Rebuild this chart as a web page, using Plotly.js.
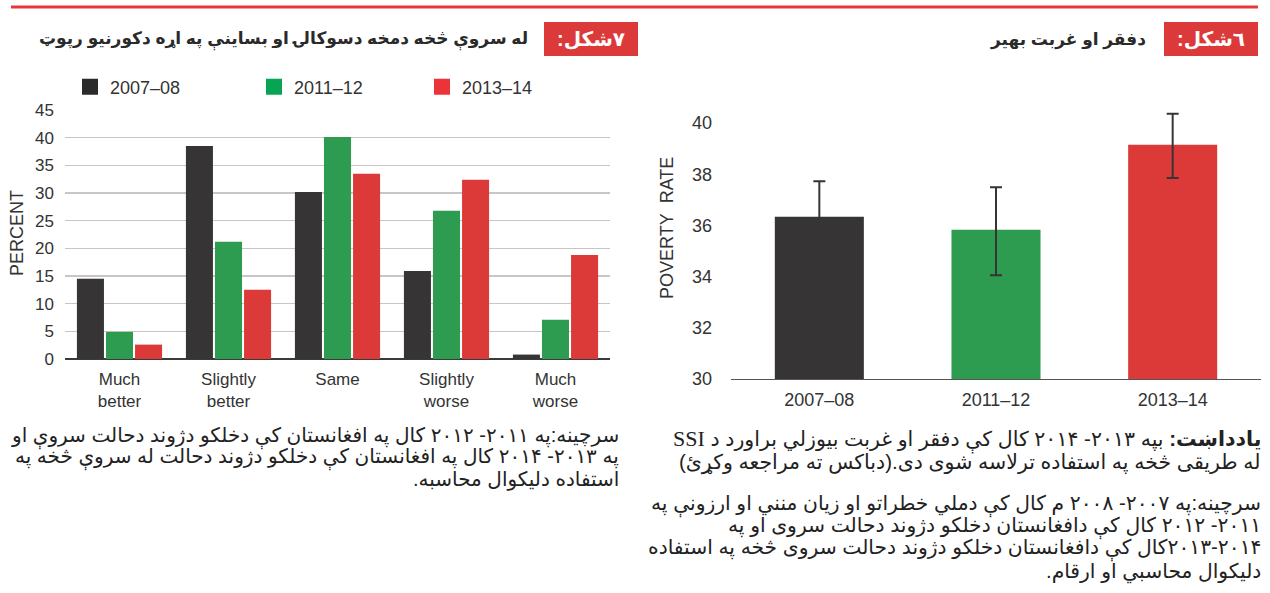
<!DOCTYPE html>
<html><head><meta charset="utf-8">
<script src="https://cdn.plot.ly/plotly-3.0.1.min.js"></script>
<style>html,body{margin:0;padding:0;background:#fff}#chart{width:1270px;height:593px}</style>
</head><body><div id="chart"></div>
<script>
// ---- data ----
const conditionCategories = ['Much<br>better', 'Slightly<br>better', 'Same', 'Slightly<br>worse', 'Much<br>worse'];
const wellbeing2007 = [14.5, 38.5, 30.2, 15.9, 0.8];
const wellbeing2011 = [4.9, 21.2, 40.1, 26.8, 7.1];
const wellbeing2013 = [2.6, 12.5, 33.5, 32.4, 18.8];
const seriesNames = ['2007–08', '2011–12', '2013–14'];
const percentTicks = [0, 5, 10, 15, 20, 25, 30, 35, 40, 45];

const surveyYears = ['2007–08', '2011–12', '2013–14'];
const povertyRate = [36.34, 35.83, 39.15];
const povertyErrPlus = [1.38, 1.66, 1.21];
const povertyErrMinus = [1.38, 1.78, 1.30];
const povertyTicks = [30, 32, 34, 36, 38, 40];

const leftTitle = 'له سروې څخه دمخه دسوکالۍ او بساينې په اړه دکورنيو رپوټ';
const leftFig = '٧شکل:';
const rightTitle = 'دفقر او غربت بهير';
const rightFig = '٦شکل:';
const leftSource = [
  'سرچينه:په ۲۰۱۱- ۲۰۱۲ کال په افغانستان کې دخلکو دژوند دحالت سروې او',
  'په ۲۰۱۳- ۲۰۱۴ کال په افغانستان کې دخلکو دژوند دحالت له سروې څخه په',
  'استفاده دليکوال محاسبه.'
];
const rightNote = [
  '<b>يادداښت:</b> بپه ۲۰۱۳- ۲۰۱۴ کال کې دفقر او غربت بيوزلي براورد د <span style="font-family:Liberation Serif,serif;font-size:22px">SSI</span>',
  'له طريقی څخه په استفاده ترلاسه شوی دی.(دباکس ته مراجعه وکړئ)'
];
const rightSource = [
  'سرچينه:په ۲۰۰۷- ۲۰۰۸ م کال کې دملي خطراتو او زيان منني او ارزونې په',
  '۲۰۱۱- ۲۰۱۲ کال کې دافغانستان دخلکو دژوند دحالت سروی او په',
  '۲۰۱۳-۲۰۱۴کال کې دافغانستان دخلکو دژوند دحالت سروی څخه په استفاده',
  'دليکوال محاسبي او ارقام.'
];

// ---- styles ----
const W = 1270, H = 593;
const px = v => v / W;
const py = v => 1 - v / H;
const FONT = 'Liberation Sans, Arial, DejaVu Sans, sans-serif';
const TXT = '#333333';
const barColors = ['#363435', '#2e9c50', '#dc3939'];
const legendColors = ['#2b2b2b', '#07a453', '#ec3338'];
const RLE = '\u202B', PDF = '\u202C';

const seriesValues = [wellbeing2007, wellbeing2011, wellbeing2013];
const traces = [];
seriesValues.forEach((vals, i) => {
  traces.push({
    type: 'bar', x: conditionCategories, y: vals, name: seriesNames[i],
    xaxis: 'x', yaxis: 'y', marker: {color: barColors[i]},
    showlegend: false, hoverinfo: 'skip'
  });
});
// legend entries (square swatches)
seriesNames.forEach((n, i) => {
  traces.push({
    type: 'scatter', mode: 'markers', x: [conditionCategories[0]], y: [null], name: n,
    xaxis: 'x', yaxis: 'y',
    marker: {symbol: 'square', size: 16, color: legendColors[i]},
    legend: i === 0 ? 'legend' : 'legend' + (i + 1), showlegend: true
  });
});
traces.push({
  type: 'bar', x: surveyYears, y: povertyRate, xaxis: 'x2', yaxis: 'y2',
  width: 0.504, marker: {color: barColors}, showlegend: false, hoverinfo: 'skip',
  error_y: {type: 'data', symmetric: false, array: povertyErrPlus, arrayminus: povertyErrMinus,
            color: '#363435', thickness: 2, width: 6}
});

const legendBase = {orientation: 'h', yanchor: 'middle', xanchor: 'left', y: py(87),
  font: {family: FONT, size: 18, color: TXT}, bgcolor: 'rgba(0,0,0,0)', borderwidth: 0,
  itemclick: false, itemdoubleclick: false};

const ann = [];
function textLines(lines, xRight, yCenters, size) {
  lines.forEach((l, i) => ann.push({
    xref: 'paper', yref: 'paper', x: px(xRight), y: py(yCenters[i]), text: RLE + l + PDF,
    showarrow: false, xanchor: 'right', yanchor: 'middle', align: 'right',
    font: {family: FONT, size: size, color: '#222'}
  }));
}
textLines(leftSource, 621, [437, 458, 479], 20);
textLines(rightNote, 1263, [440, 462], 20.5);
textLines(rightSource, 1263, [505, 527, 549, 572], 20.3);

const layout = {
  width: W, height: H, margin: {l: 0, r: 0, t: 0, b: 0},
  paper_bgcolor: '#fff', plot_bgcolor: 'rgba(0,0,0,0)',
  font: {family: FONT, size: 17, color: TXT},
  barmode: 'group', bargap: 0.2, bargroupgap: 0.07,
  showlegend: true,
  legend: Object.assign({}, legendBase, {x: px(70)}),
  legend2: Object.assign({}, legendBase, {x: px(254)}),
  legend3: Object.assign({}, legendBase, {x: px(422)}),
  xaxis: {domain: [px(65), px(610)], anchor: 'y', type: 'category',
    showgrid: false, zeroline: false, showline: false, ticks: '', ticklabelstandoff: 8,
    tickfont: {family: FONT, size: 17, color: TXT}, fixedrange: true},
  yaxis: {domain: [py(359), py(110)], anchor: 'x', range: [0, 45],
    tickvals: percentTicks, ticktext: percentTicks.map(String),
    showgrid: true, gridcolor: '#c6c6c6', gridwidth: 1.3,
    zeroline: true, zerolinecolor: '#3a3a3a', zerolinewidth: 1.5,
    ticks: '', ticklabelstandoff: 10,
    tickfont: {family: FONT, size: 17, color: TXT}, fixedrange: true},
  xaxis2: {domain: [px(731), px(1261)], anchor: 'y2', type: 'category',
    showgrid: false, zeroline: false, showline: true, linecolor: '#555', linewidth: 1.2,
    ticks: '', ticklabelstandoff: 4,
    tickfont: {family: FONT, size: 18, color: TXT}, fixedrange: true},
  yaxis2: {domain: [py(379), py(97.4)], anchor: 'x2', range: [30, 41],
    tickvals: povertyTicks, ticktext: povertyTicks.map(String),
    showgrid: false, zeroline: false, showline: false, ticks: '', ticklabelstandoff: 18,
    tickfont: {family: FONT, size: 18, color: TXT}, fixedrange: true},
  shapes: [
    {type: 'line', xref: 'paper', yref: 'paper', x0: px(11), x1: px(1258), y0: py(7), y1: py(7),
     line: {color: '#e8363c', width: 3}},
    {type: 'rect', xref: 'paper', yref: 'paper', x0: px(544), x1: px(638), y0: py(56), y1: py(22),
     fillcolor: '#dc3a3a', line: {width: 0}},
    {type: 'rect', xref: 'paper', yref: 'paper', x0: px(1164), x1: px(1258), y0: py(56), y1: py(22),
     fillcolor: '#dc3a3a', line: {width: 0}}
  ],
  annotations: ann.concat([
    {xref: 'paper', yref: 'paper', x: px(591), y: py(39), text: '<b>' + RLE + leftFig + PDF + '</b>',
     showarrow: false, xanchor: 'center', yanchor: 'middle', font: {family: FONT, size: 20, color: '#fff'}},
    {xref: 'paper', yref: 'paper', x: px(1211), y: py(39), text: '<b>' + RLE + rightFig + PDF + '</b>',
     showarrow: false, xanchor: 'center', yanchor: 'middle', font: {family: FONT, size: 20, color: '#fff'}},
    {xref: 'paper', yref: 'paper', x: px(530), y: py(40), text: '<b>' + RLE + leftTitle + PDF + '</b>',
     showarrow: false, xanchor: 'right', yanchor: 'middle', font: {family: FONT, size: 17, color: '#2a2a2a'}},
    {xref: 'paper', yref: 'paper', x: px(1148), y: py(40), text: '<b>' + RLE + rightTitle + PDF + '</b>',
     showarrow: false, xanchor: 'right', yanchor: 'middle', font: {family: FONT, size: 17, color: '#2a2a2a'}},
    {xref: 'paper', yref: 'paper', x: px(17), y: py(233), text: 'PERCENT', textangle: -90,
     showarrow: false, xanchor: 'center', yanchor: 'middle', font: {family: FONT, size: 18, color: TXT}},
    {xref: 'paper', yref: 'paper', x: px(667), y: py(228), text: 'POVERTY\u00A0 RATE', textangle: -90,
     showarrow: false, xanchor: 'center', yanchor: 'middle', font: {family: FONT, size: 18, color: TXT}}
  ])
};

Plotly.newPlot('chart', traces, layout, {displayModeBar: false, staticPlot: true});
</script>
</body></html>
